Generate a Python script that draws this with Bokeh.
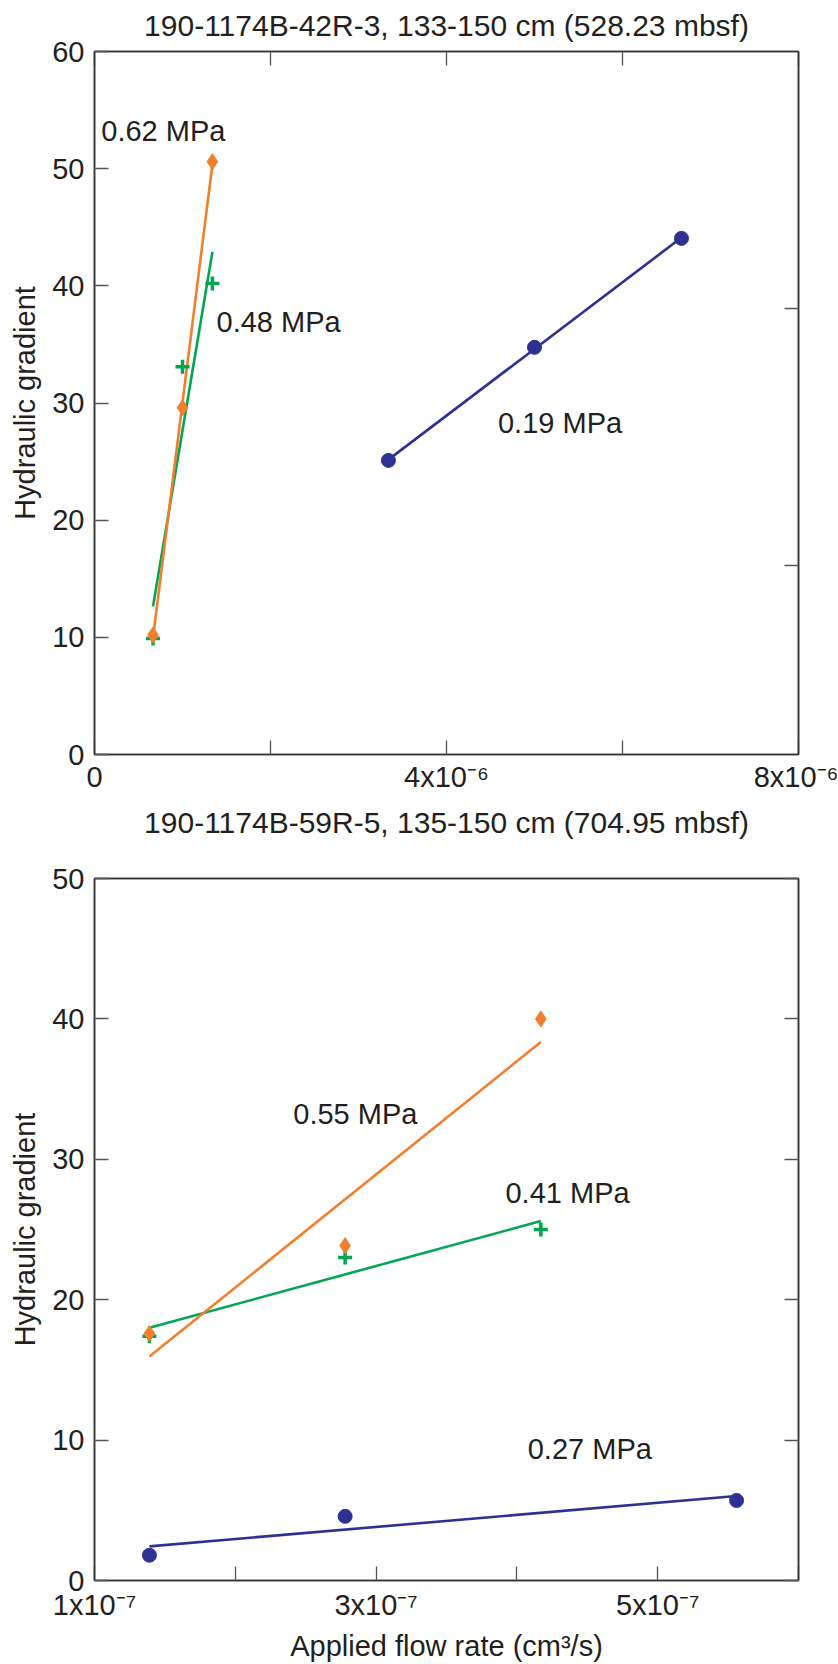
import numpy as np
from bokeh.plotting import figure
from bokeh.models import LinearAxis, FixedTicker, CustomJSTickFormatter, Label
from bokeh.layouts import column
from bokeh.embed import file_html
from bokeh.resources import INLINE

# ---------------- data: upper panel ----------------
top_title = "190-1174B-42R-3, 133-150 cm (528.23 mbsf)"
top_x_019 = [3.34e-6, 5.00e-6, 6.67e-6]
top_y_019 = [25.1, 34.75, 44.05]
top_x_048 = [0.665e-6, 1.00e-6, 1.34e-6]
top_y_048 = [9.9, 33.1, 40.2]
top_x_062 = [0.665e-6, 1.00e-6, 1.34e-6]
top_y_062 = [10.2, 29.6, 50.6]
top_x_ticks = [0.0, 2e-6, 4e-6, 6e-6, 8e-6]
top_x_labels = ["0", "", "4x10\u207b\u2076", "", "8x10\u207b\u2076"]
top_y_ticks = [0, 10, 20, 30, 40, 50, 60]
top_right_ticks = [16.1, 38.1]

# ---------------- data: lower panel ----------------
bot_title = "190-1174B-59R-5, 135-150 cm (704.95 mbsf)"
bot_x_027 = [1.39e-7, 2.78e-7, 5.56e-7]
bot_y_027 = [1.8, 4.57, 5.7]
bot_x_041 = [1.39e-7, 2.78e-7, 4.17e-7]
bot_y_041 = [17.4, 23.0, 25.0]
bot_x_055 = [1.39e-7, 2.78e-7, 4.17e-7]
bot_y_055 = [17.6, 23.85, 40.0]
bot_x_ticks = [1e-7, 2e-7, 3e-7, 4e-7, 5e-7, 6e-7]
bot_x_labels = ["1x10\u207b\u2077", "", "3x10\u207b\u2077", "", "5x10\u207b\u2077", ""]
bot_y_ticks = [0, 10, 20, 30, 40, 50]

x_axis_label = "Applied flow rate (cm\u00b3/s)"
y_axis_label = "Hydraulic gradient"

ORANGE = "#F07F2E"
GREEN = "#00A651"
BLUE = "#2E3192"
TXT = "#231F20"
AX = "#333333"
FONT = "Liberation Sans"
FS = "29px"


def label_formatter(tv, tl):
    return CustomJSTickFormatter(args=dict(tvals=tv, tlabels=tl), code="""
        let best = 0, bd = Infinity;
        for (let i = 0; i < tvals.length; i++) {
            const d = Math.abs(tvals[i] - tick);
            if (d < bd) { bd = d; best = i; }
        }
        return bd <= 1e-3 * Math.abs(tvals[tvals.length-1] - tvals[0]) ? tlabels[best] : "";
    """)


def blank_formatter():
    return CustomJSTickFormatter(code="return '';")


def style_axis(ax, tks):
    ax.ticker = FixedTicker(ticks=tks, minor_ticks=[])
    ax.axis_line_color = AX
    ax.axis_line_width = 1.5
    ax.major_tick_line_color = "#555555"
    ax.major_tick_line_width = 1.3
    ax.major_tick_in = 14
    ax.major_tick_out = 0
    ax.minor_tick_line_color = None
    ax.major_label_text_font = FONT
    ax.major_label_text_font_size = FS
    ax.major_label_text_color = TXT
    ax.axis_label_text_font = FONT
    ax.axis_label_text_font_size = FS
    ax.axis_label_text_font_style = "normal"
    ax.axis_label_text_color = TXT


def blank_axis(tks):
    ax = LinearAxis()
    style_axis(ax, tks)
    ax.formatter = blank_formatter()
    ax.major_label_standoff = 0
    ax.major_label_text_font_size = "1px"
    return ax


def title_axis(tks, text, standoff):
    ax = blank_axis(tks)
    ax.axis_label = text
    ax.axis_label_text_font_size = "30px"
    ax.axis_label_standoff = standoff
    return ax


def fit_line(p, xs, ys, color):
    k, b = np.polyfit(np.array(xs), np.array(ys), 1)
    xe = np.array([min(xs), max(xs)])
    p.line(xe, k * xe + b, line_color=color, line_width=2.6)


def make_fig(height, xr, yr, mbt, mbb):
    p = figure(width=838, height=height, x_range=xr, y_range=yr,
               output_backend="svg", toolbar_location=None,
               min_border_left=94, min_border_right=40,
               min_border_top=mbt, min_border_bottom=mbb,
               background_fill_color="white", border_fill_color="white")
    p.outline_line_color = AX
    p.outline_line_width = 1.5
    p.grid.visible = False
    return p


def add_label(p, x, y, text):
    p.add_layout(Label(x=x, y=y, text=text, text_font=FONT, text_font_size=FS,
                       text_color=TXT, text_baseline="middle", text_align="left"))


def add_points(p, xb, yb, xg, yg, xo, yo):
    p.scatter(xb, yb, marker="circle", size=14, fill_color=BLUE, line_color=BLUE)
    p.scatter(xg, yg, marker="cross", size=14, line_color=GREEN, line_width=3.5)
    p.scatter(xo, yo, marker="diamond", size=16, fill_color=ORANGE, line_color=ORANGE)


# ---------------- upper figure ----------------
p1 = make_fig(800, (0, 8e-6), (0, 60), 51, 46)
style_axis(p1.xaxis[0], top_x_ticks)
p1.xaxis[0].formatter = label_formatter(top_x_ticks, top_x_labels)
p1.xaxis[0].major_label_standoff = 6
style_axis(p1.yaxis[0], top_y_ticks)
p1.yaxis[0].axis_label = y_axis_label
p1.yaxis[0].major_label_standoff = 10
p1.yaxis[0].axis_label_standoff = 8

p1.add_layout(title_axis(top_x_ticks, top_title, 10), "above")
p1.add_layout(blank_axis(top_right_ticks), "right")

fit_line(p1, top_x_019, top_y_019, BLUE)
fit_line(p1, top_x_048, top_y_048, GREEN)
fit_line(p1, top_x_062, top_y_062, ORANGE)
add_points(p1, top_x_019, top_y_019, top_x_048, top_y_048, top_x_062, top_y_062)

add_label(p1, 0.077e-6, 53.2, "0.62 MPa")
add_label(p1, 1.387e-6, 36.9, "0.48 MPa")
add_label(p1, 4.585e-6, 28.3, "0.19 MPa")

# ---------------- lower figure ----------------
p2 = make_fig(864, (1e-7, 6e-7), (0, 50), 78, 83)
style_axis(p2.xaxis[0], bot_x_ticks)
p2.xaxis[0].formatter = label_formatter(bot_x_ticks, bot_x_labels)
p2.xaxis[0].axis_label = x_axis_label
p2.xaxis[0].major_label_standoff = 8
p2.xaxis[0].axis_label_standoff = 6
style_axis(p2.yaxis[0], bot_y_ticks)
p2.yaxis[0].axis_label = y_axis_label
p2.yaxis[0].major_label_standoff = 10
p2.yaxis[0].axis_label_standoff = 8

p2.add_layout(title_axis([], bot_title, 40), "above")
p2.add_layout(blank_axis(bot_y_ticks), "right")

fit_line(p2, bot_x_027, bot_y_027, BLUE)
fit_line(p2, bot_x_041, bot_y_041, GREEN)
fit_line(p2, bot_x_055, bot_y_055, ORANGE)
add_points(p2, bot_x_027, bot_y_027, bot_x_041, bot_y_041, bot_x_055, bot_y_055)

add_label(p2, 2.412e-7, 33.2, "0.55 MPa")
add_label(p2, 3.919e-7, 27.6, "0.41 MPa")
add_label(p2, 4.077e-7, 9.4, "0.27 MPa")

layout = column(p1, p2, spacing=0)
open("out.html", "w").write(file_html(layout, INLINE))
